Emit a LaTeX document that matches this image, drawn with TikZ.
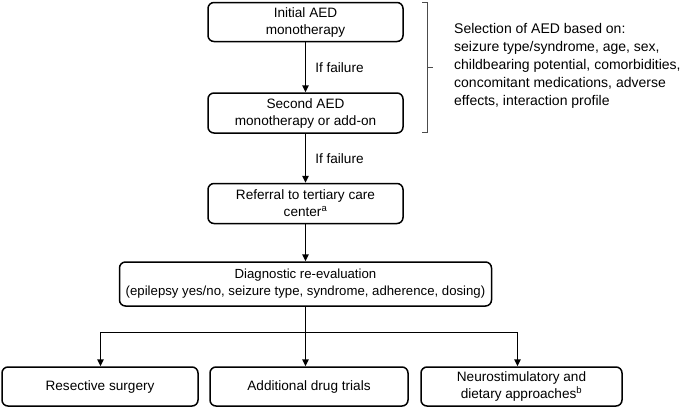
\documentclass[tikz,border=0pt]{standalone}
\usepackage{fontspec}
\setmainfont{Liberation Sans}
\usetikzlibrary{arrows.meta}
\begin{document}
\begin{tikzpicture}[x=1pt,y=-1pt,
  box/.style={draw, line width=1.5pt, rounded corners=6pt, align=center, inner sep=0pt, font=\fontsize{13.6}{17}\selectfont},
  conn/.style={line width=1.5pt, line join=miter, -{Triangle[length=7pt,width=6.5pt]}},
  lbl/.style={font=\fontsize{13.6}{17}\selectfont, inner sep=0pt, anchor=west},
  brk/.style={line width=0.8pt, draw=black!70}]
\useasboundingbox (0,0) rectangle (685,408);
\node[box, minimum width=195pt, minimum height=39pt] (b1) at (305.5,22) {Initial AED\\monotherapy};
\node[box, minimum width=195pt, minimum height=40pt] (b2) at (305.5,113) {Second AED\\monotherapy or add-on};
\node[box, minimum width=195pt, minimum height=40pt] (b3) at (305.5,203.5) {Referral to tertiary care\\center\textsuperscript{a}};
\node[box, minimum width=372pt, minimum height=44pt, font=\fontsize{13.2}{17}\selectfont] (b4) at (305.5,284) {Diagnostic re-evaluation\\(epilepsy yes/no, seizure type, syndrome, adherence, dosing)};
\node[box, minimum width=196pt, minimum height=39pt] (A) at (100,386.5) {Resective surgery};
\node[box, minimum width=198pt, minimum height=39pt] (B) at (309,386.5) {Additional drug trials};
\node[box, minimum width=201pt, minimum height=39pt] (C) at (521.5,386.5) {Neurostimulatory and\\dietary approaches\textsuperscript{b}};
\draw[conn] (b1) -- node[lbl, xshift=9pt] (f1) {If failure} (b2);
\draw[conn] (b2) -- node[lbl, xshift=9pt] (f2) {If failure} (b3);
\draw[conn] (b3) -- (b4);
\coordinate (hl) at (100.5,332.5);
\coordinate (hr) at (517.5,332.5);
\draw[conn] (b4.south) -- (b4.south |- B.north);
\draw[conn] (hr) -- (hl) -- (hl |- A.north);
\draw[conn] (hl) -- (hr) -- (hr |- C.north);
\coordinate (k1) at (422,2);
\coordinate (k2) at (427,2);
\coordinate (k3) at (427,132);
\coordinate (k4) at (422,132);
\coordinate (km) at (427,67);
\coordinate (kt) at (433,67);
\draw[brk] (k1) -- (k2) -- (k3) -- (k4);
\draw[brk] (km) -- (kt);
\node[lbl, align=left, font=\fontsize{14}{18}\selectfont] (sel) at (454,66) {Selection of AED based on:\\seizure type/syndrome, age, sex,\\childbearing potential, comorbidities,\\concomitant medications, adverse\\effects, interaction profile};
\end{tikzpicture}
\end{document}
